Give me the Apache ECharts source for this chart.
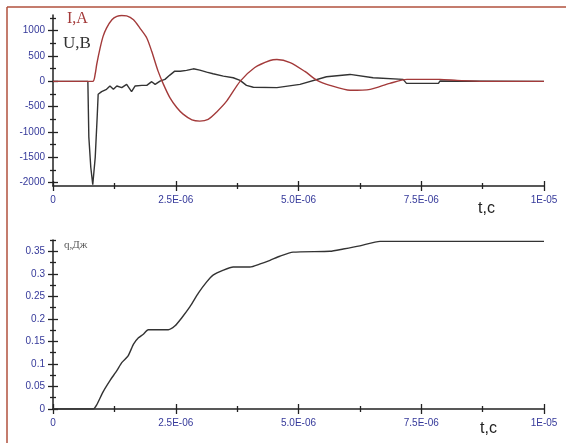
<!DOCTYPE html>
<html>
<head>
<meta charset="utf-8">
<script src="https://cdn.jsdelivr.net/npm/echarts@6/dist/echarts.min.js"></script>
<style>
html,body{margin:0;padding:0;background:#fff;}
#c{width:566px;height:443px;}
</style>
</head>
<body>
<div id="c"></div>
<script>
// time in units of 1E-06 s
const tI = [0, 0.81, 0.86, 0.89, 0.96, 1.02, 1.09, 1.20, 1.30, 1.40, 1.50, 1.64, 1.77, 1.91, 2.01, 2.14, 2.25, 2.38, 2.52, 2.65, 2.83, 2.99, 3.16, 3.33, 3.54, 3.81, 4.11, 4.42, 4.56, 4.83, 5.13, 5.38, 5.64, 6.05, 6.46, 6.86, 7.21, 7.88, 8.23, 8.76, 10];
const vI = [0, 0, 150, 333, 660, 888, 1052, 1216, 1281, 1300, 1294, 1216, 1052, 857, 594, 202, -59, -320, -516, -647, -760, -784, -750, -608, -386, 0, 274, 412, 431, 372, 196, 20, -78, -176, -157, -39, 39, 39, 20, 0, 0];
const tU = [0, 0.71, 0.73, 0.77, 0.81, 0.86, 0.90, 0.92, 0.99, 1.09, 1.16, 1.23, 1.30, 1.40, 1.50, 1.60, 1.67, 1.81, 1.91, 2.01, 2.08, 2.18, 2.28, 2.38, 2.48, 2.59, 2.72, 2.86, 2.99, 3.13, 3.26, 3.47, 3.67, 3.81, 3.94, 4.08, 4.56, 5.03, 5.57, 6.05, 6.52, 7.13, 7.20, 7.85, 7.88, 10];
const vU = [0, 0, -1100, -1700, -2040, -1500, -700, -255, -202, -157, -92, -157, -92, -124, -59, -202, -92, -78, -78, -6, -59, 6, 39, 124, 202, 200, 216, 248, 222, 183, 150, 104, 72, 20, -78, -115, -124, -59, 92, 137, 72, 39, -39, -39, 6, 0];
const tQ = [0, 0.82, 0.89, 1.02, 1.16, 1.30, 1.40, 1.53, 1.64, 1.74, 1.84, 1.94, 2.35, 2.48, 2.62, 2.79, 2.96, 3.13, 3.26, 3.47, 3.67, 4.01, 4.22, 4.42, 4.62, 4.89, 5.64, 5.91, 6.25, 6.66, 10];
const vQ = [0, 0, 0.009, 0.038, 0.063, 0.085, 0.103, 0.118, 0.144, 0.158, 0.166, 0.176, 0.176, 0.184, 0.202, 0.227, 0.257, 0.282, 0.297, 0.308, 0.315, 0.315, 0.322, 0.330, 0.339, 0.348, 0.350, 0.355, 0.362, 0.372, 0.372];

const xTickVals = [0, 2.5, 5, 7.5, 10];
const xTickLabels = ['0', '2.5E-06', '5.0E-06', '7.5E-06', '1E-05'];
const xMinorVals = [1.25, 3.75, 6.25, 8.75];
const yTopTickVals = [-2000, -1500, -1000, -500, 0, 500, 1000];
const yTopTickLabels = ['-2000', '-1500', '-1000', '-500', '0', '500', '1000'];
const yTopMinorVals = [-1750, -1250, -750, -250, 250, 750, 1250];
const yBotTickVals = [0, 0.05, 0.1, 0.15, 0.2, 0.25, 0.3, 0.35];
const yBotTickLabels = ['0', '0.05', '0.1', '0.15', '0.2', '0.25', '0.3', '0.35'];
const yBotMinorVals = [0.025, 0.075, 0.125, 0.175, 0.225, 0.275, 0.325, 0.375];

function zip(a, b) { return a.map((v, i) => [v, b[i]]); }

const axisColor = '#222';
const labelStyle = { color: '#35399a', fontSize: 10, fontFamily: 'Liberation Sans, Arial, sans-serif' };

function axesSet(dim, grid, min, max, majors, minors, labels) {
  const pos = dim === 'x' ? 'bottom' : 'left';
  const fmt = v => { const i = majors.findIndex(m => Math.abs(m - v) < 1e-9); return i >= 0 ? labels[i] : ''; };
  const base = { type: 'value', gridIndex: grid, min: min, max: max, position: pos, splitLine: { show: false }, minorTick: { show: false } };
  return [
    Object.assign({}, base, {
      axisLine: { show: true, onZero: false, lineStyle: { color: axisColor, width: 1.5 } },
      axisTick: { show: true, customValues: majors, length: 5, inside: false, lineStyle: { color: axisColor, width: 1.3 } },
      axisLabel: Object.assign({ show: true, customValues: majors, formatter: fmt, margin: dim === 'x' ? 9 : 8, showMinLabel: true, showMaxLabel: true }, labelStyle)
    }),
    Object.assign({}, base, {
      axisLine: { show: false, onZero: false },
      axisTick: { show: true, customValues: majors, length: 5, inside: true, lineStyle: { color: axisColor, width: 1.3 } },
      axisLabel: { show: false }
    }),
    Object.assign({}, base, {
      axisLine: { show: false, onZero: false },
      axisTick: { show: true, customValues: minors, length: 3, inside: false, lineStyle: { color: axisColor, width: 1.3 } },
      axisLabel: { show: false }
    }),
    Object.assign({}, base, {
      axisLine: { show: false, onZero: false },
      axisTick: { show: true, customValues: minors, length: 3, inside: true, lineStyle: { color: axisColor, width: 1.3 } },
      axisLabel: { show: false }
    })
  ];
}

const xAxes = axesSet('x', 0, 0, 10, xTickVals, xMinorVals, xTickLabels)
  .concat(axesSet('x', 1, 0, 10, xTickVals, xMinorVals, xTickLabels));
const yAxes = axesSet('y', 0, -2065, 1310, yTopTickVals, yTopMinorVals, yTopTickLabels)
  .concat(axesSet('y', 1, 0, 0.375, yBotTickVals, yBotMinorVals, yBotTickLabels));

const chart = echarts.init(document.getElementById('c'), null, { renderer: 'canvas' });
chart.setOption({
  animation: false,
  backgroundColor: '#fff',
  grid: [
    { left: 53, right: 22, top: 15, height: 171 },
    { left: 53, right: 22, top: 240, height: 169 }
  ],
  xAxis: xAxes,
  yAxis: yAxes,
  series: [
    { type: 'line', name: 'U,B', xAxisIndex: 0, yAxisIndex: 0, data: zip(tU, vU), showSymbol: false, lineStyle: { color: '#333', width: 1.4 }, z: 3 },
    { type: 'line', name: 'I,A', xAxisIndex: 0, yAxisIndex: 0, data: zip(tI, vI), showSymbol: false, smooth: 0.25, lineStyle: { color: '#a33a3a', width: 1.4 }, z: 4 },
    { type: 'line', name: 'q,Дж', xAxisIndex: 4, yAxisIndex: 4, data: zip(tQ, vQ), showSymbol: false, smooth: 0.2, lineStyle: { color: '#333', width: 1.4 }, z: 3 }
  ],
  graphic: [
    { type: 'line', shape: { x1: 7, y1: 7, x2: 566, y2: 7 }, style: { stroke: '#b0503c', lineWidth: 1.5 } },
    { type: 'line', shape: { x1: 7, y1: 7, x2: 7, y2: 443 }, style: { stroke: '#b0503c', lineWidth: 1.5 } },
    { type: 'text', left: 67, top: 11, style: { text: 'I,A', fill: '#a33a3a', font: '16px "Liberation Serif", serif' } },
    { type: 'text', left: 63, top: 35, style: { text: 'U,B', fill: '#333', font: '17px "Liberation Serif", serif' } },
    { type: 'text', left: 64, top: 240, style: { text: 'q,Дж', fill: '#555', font: '11px "Liberation Serif", serif' } },
    { type: 'text', left: 478, top: 201, style: { text: 't,c', fill: '#222', font: '16px "Liberation Sans", sans-serif' } },
    { type: 'text', left: 480, top: 421, style: { text: 't,c', fill: '#222', font: '16px "Liberation Sans", sans-serif' } }
  ]
});
</script>
</body>
</html>
